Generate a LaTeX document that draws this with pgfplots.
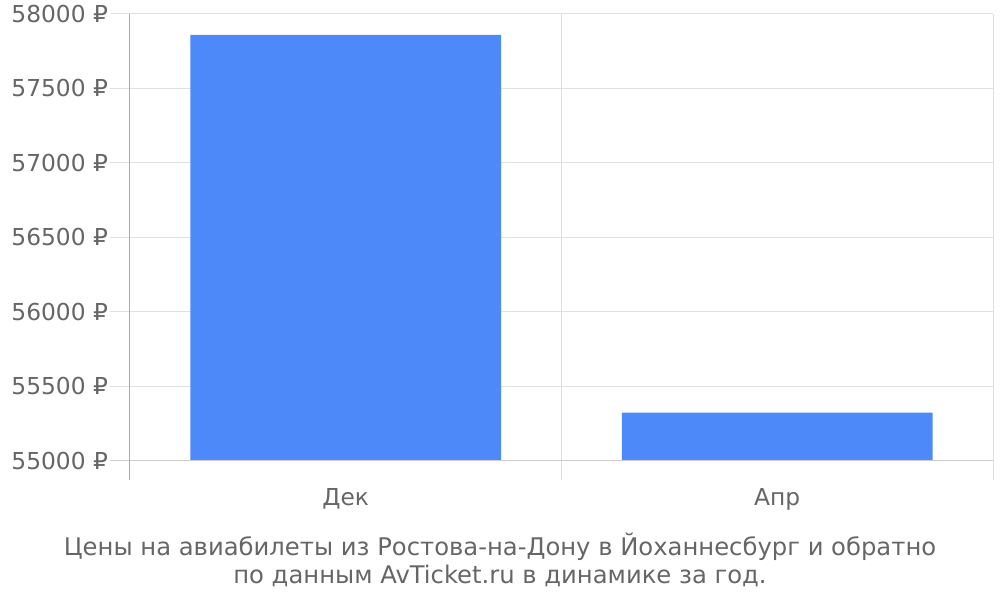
\documentclass[border=0pt]{standalone}
\usepackage{fontspec}
\setmainfont{DejaVu Sans}
\usepackage{pgfplots}
\pgfplotsset{compat=1.18}
\definecolor{barc}{HTML}{4D89F9}
\definecolor{txt}{HTML}{666666}
\definecolor{grd}{HTML}{E0E0E0}
\definecolor{base}{HTML}{CCCCCC}
\definecolor{lft}{HTML}{AAAAAA}
\begin{document}
\begin{tikzpicture}
\useasboundingbox (0,0) rectangle (750pt,450pt);
\begin{axis}[
  at={(97.5pt,104.25pt)}, anchor=south west,
  scale only axis, width=647.25pt, height=335.25pt,
  xmin=-0.5, xmax=1.5, ymin=55000, ymax=58000,
  axis line style={draw=none},
  ybar, bar width=0.72,
  xtick={0,1}, xticklabels={Дек,Апр},
  x tick style={draw=none},
  xticklabel style={yshift=-12.5pt},
  extra x ticks={0.5,1.5}, extra x tick labels={},
  extra x tick style={grid=major},
  ytick={55000,55500,...,58000},
  yticklabels={55000 ₽,55500 ₽,56000 ₽,56500 ₽,57000 ₽,57500 ₽,58000 ₽},
  scaled y ticks=false,
  ymajorgrids,
  y tick style={draw=none},
  yticklabel style={xshift=-13pt},
  grid style={grd, line width=0.75pt},
  tick label style={font=\fontsize{17.5}{20}\selectfont, text=txt},
  clip=false,
]
\addplot[fill=barc, draw=none] coordinates {(0,57860) (1,55325)};
\draw[grd, line width=0.75pt] (axis cs:-0.5,55500) -- ([xshift=-15pt]axis cs:-0.5,55500);
\draw[grd, line width=0.75pt] (axis cs:-0.5,56000) -- ([xshift=-15pt]axis cs:-0.5,56000);
\draw[grd, line width=0.75pt] (axis cs:-0.5,56500) -- ([xshift=-15pt]axis cs:-0.5,56500);
\draw[grd, line width=0.75pt] (axis cs:-0.5,57000) -- ([xshift=-15pt]axis cs:-0.5,57000);
\draw[grd, line width=0.75pt] (axis cs:-0.5,57500) -- ([xshift=-15pt]axis cs:-0.5,57500);
\draw[grd, line width=0.75pt] (axis cs:-0.5,58000) -- ([xshift=-15pt]axis cs:-0.5,58000);
\draw[grd, line width=0.75pt] (axis cs:0.5,55000) -- ([yshift=-14.25pt]axis cs:0.5,55000);
\draw[grd, line width=0.75pt] (axis cs:1.5,55000) -- ([yshift=-14.25pt]axis cs:1.5,55000);
\draw[base, line width=0.75pt] ([xshift=-15pt]axis cs:-0.5,55000) -- (axis cs:1.5,55000);
\draw[lft, line width=0.75pt] (axis cs:-0.5,58000) -- ([yshift=-14.25pt]axis cs:-0.5,55000);
\end{axis}
\node[text=txt, font=\fontsize{18.2}{20}\selectfont] at (375pt,39.75pt) {Цены на авиабилеты из Ростова-на-Дону в Йоханнесбург и обратно};
\node[text=txt, font=\fontsize{18.2}{20}\selectfont] at (375pt,18pt) {по данным AvTicket.ru в динамике за год.};
\end{tikzpicture}
\end{document}
